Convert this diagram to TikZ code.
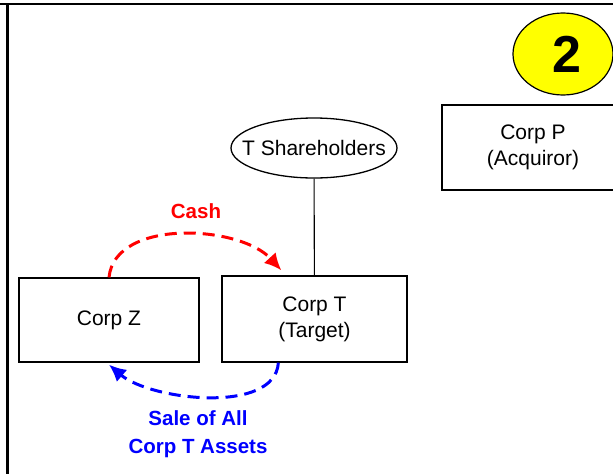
\documentclass[tikz,border=0pt]{standalone}
\usepackage{fontspec}
\setmainfont{Liberation Sans}
\usetikzlibrary{arrows.meta,shapes.geometric}
\definecolor{cashred}{RGB}{255,0,0}
\definecolor{saleblue}{RGB}{0,0,255}
\definecolor{stepyellow}{RGB}{255,255,0}
\tikzset{
  corp/.style={draw, line width=1.3pt, align=center, inner sep=0pt,
    minimum width=182pt, minimum height=85pt, font=\fontsize{21}{26}\selectfont},
  owners/.style={draw, ellipse, line width=1.3pt, inner sep=0pt, inner xsep=-14pt,
    minimum width=166pt, minimum height=60pt, font=\fontsize{21}{26}\selectfont},
  stepmark/.style={draw, ellipse, fill=stepyellow, line width=1.2pt, inner sep=0pt,
    minimum width=100pt, minimum height=82pt, font=\fontsize{52}{56}\selectfont\bfseries},
  flow/.style={line width=3pt, dash pattern=on 12pt off 7pt, -{Latex[length=17pt,width=16pt]}},
  flowlabel/.style={align=center, font=\fontsize{20.5}{28}\selectfont\bfseries},
  frame/.style={line width=2.2pt}
}
\begin{document}
\begin{tikzpicture}[x=1pt, y=-1pt]
   \useasboundingbox (0,0) rectangle (613,474);
   \clip (0,0) rectangle (613,474);
   \draw [frame] (0,4) -- (613,4);
   \draw [frame] (7.5,4) -- (7.5,474);
   \node [stepmark] (N2) at (563,54) {\raisebox{-4pt}{\hspace{8pt}2}};
   \node [owners] (TS) at (314,148) {T Shareholders};
   \node [corp] (CP) at (533,147.5) {Corp P\\(Acquiror)};
   \node [corp, minimum width=180pt, minimum height=84pt] (CZ) at (109,320) {Corp Z};
   \node [corp, minimum width=185pt, minimum height=86pt] (CT) at (314.5,319) {Corp T\\(Target)};
   \draw [line width=1.1pt] (TS) -- (CT);
   \draw [flow, cashred] (CZ.north) .. controls (115,218) and (240,225) .. ([xshift=60pt,yshift=5pt]CT.north west);
   \draw [flow, saleblue] ([xshift=57pt]CT.south west) .. controls (275,415) and (150,400) .. ([yshift=-2pt]CZ.south);
   \node [flowlabel, text=cashred] (CL) at (196,211) {Cash};
   \node [flowlabel, text=saleblue] (SL) at (198,434) {Sale of All\\Corp T Assets};
\end{tikzpicture}
\end{document}
